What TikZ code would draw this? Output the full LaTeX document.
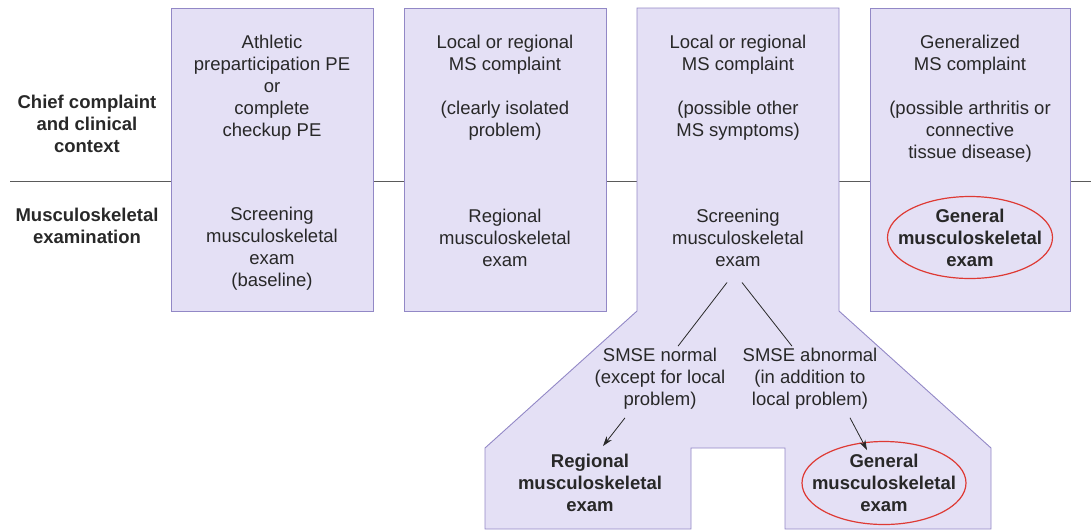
\documentclass[tikz,border=0pt]{standalone}
\usepackage{fontspec}
\setmainfont{Liberation Sans}
\usepackage{xcolor}
\usetikzlibrary{calc, shapes, arrows, arrows.meta}
\definecolor{boxfill}{RGB}{228,224,245}
\definecolor{boxline}{RGB}{146,136,198}
\definecolor{txtgray}{RGB}{40,40,40}
\definecolor{rulegray}{RGB}{90,90,90}
\definecolor{ringred}{RGB}{222,58,52}

\begin{document}
\begin{tikzpicture}[x=1pt,y=-1pt,
	txt/.style={align=center,text=txtgray,inner sep=0pt,font=\fontsize{18.5}{22}\selectfont},
	boldtxt/.style={txt,font=\fontsize{18.5}{22}\selectfont\bfseries},
	panel/.style={fill=boxfill,draw=boxline,line width=0.9pt},
	ring/.style={draw=ringred,line width=1.2pt},
	link/.style={draw=txtgray,line width=0.8pt}]
				%Page frame
				\useasboundingbox (0,0) rectangle (1091,531);
				%Rule between the two rows
				\coordinate (ruleL) at (10,181);
				\coordinate (ruleR) at (1091,181);
				\draw [draw=rulegray,line width=0.9pt] (ruleL) -- (ruleR);
				%Panels
				\draw [panel] (171,8) rectangle (373,311);
				\draw [panel] (404,8) rectangle (606,311);
				\draw [panel] (870,8) rectangle (1070,311);
				%Third panel with its two feet
				\draw [panel] (637,8) -- (839,8) -- (839,311) -- (991,448) -- (991,529)
					-- (785,529) -- (785,448) -- (691,448) -- (691,529) -- (485,529)
					-- (485,448) -- (637,311) -- cycle;
				%Row labels
				\node [boldtxt] (rowcc) at (87,124) {Chief complaint\\and clinical\\context};
				\node [boldtxt] (rowms) at (87,226) {Musculoskeletal\\examination};
				%Column 1
				\node [txt] (cc1) at (272,88) {Athletic\\preparticipation PE\\or\\complete\\checkup PE};
				\node [txt] (ex1) at (272,248.5) {Screening\\musculoskeletal\\exam\\(baseline)};
				%Column 2
				\node [txt] (cc2) at (505,88) {Local or regional\\MS complaint\\[22pt](clearly isolated\\problem)};
				\node [txt] (ex2) at (505,237.5) {Regional\\musculoskeletal\\exam};
				%Column 3
				\node [txt] (cc3) at (738,88) {Local or regional\\MS complaint\\[22pt](possible other\\MS symptoms)};
				\node [txt] (ex3) at (738,237.5) {Screening\\musculoskeletal\\exam};
				\node [txt] (smseN) at (660,379) {SMSE normal\\(except for local\\problem)};
				\node [txt] (smseA) at (810,379) {SMSE abnormal\\(in addition to\\local problem)};
				\node [boldtxt] (regN) at (590,483) {Regional\\musculoskeletal\\exam};
				\node [boldtxt] (genA) at (884,483) {General\\musculoskeletal\\exam};
				%Column 4
				\node [txt] (cc4) at (970,99) {Generalized\\MS complaint\\[22pt](possible arthritis or\\connective\\tissue disease)};
				\node [boldtxt] (ex4) at (970,237.5) {General\\musculoskeletal\\exam};
				%Red rings
				\draw [ring] (genA.center) ellipse [x radius=82, y radius=41.5];
				\draw [ring] (ex4.center) ellipse [x radius=82.5, y radius=41];
				%Branches
				\draw [link] ([shift={(-11,16)}]ex3.south) -- ([shift={(18,-2)}]smseN.north);
				\draw [link] ([shift={(4,16)}]ex3.south) -- ([shift={(-18,-2)}]smseA.north);
				\draw [link,-{Stealth[length=10pt,width=6.5pt]}] ([shift={(-35,8)}]smseN.south) -- ([shift={(13,-8)}]regN.north);
				\draw [link,-{Stealth[length=10pt,width=6.5pt]}] ([shift={(40,8)}]smseA.south) -- ([shift={(-17,-4)}]genA.north);
\end{tikzpicture}
\end{document}
